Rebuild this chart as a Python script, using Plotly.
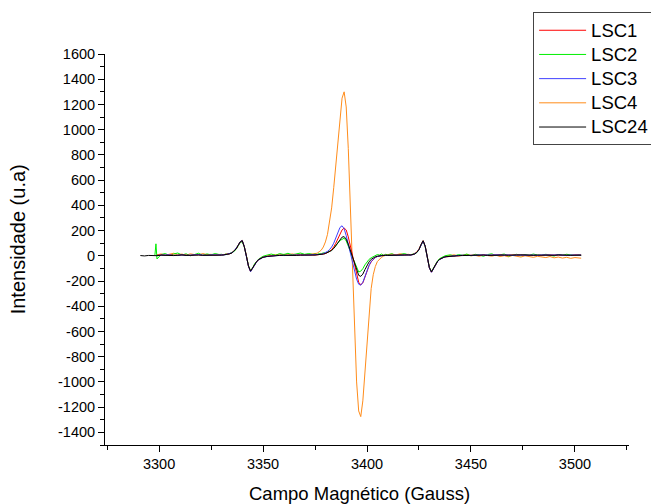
import plotly.graph_objects as go

# Magnetic field (Gauss) sample positions
campo = [3291, 3293, 3295, 3297, 3298, 3298.5, 3299, 3301, 3303, 3305, 3307, 3309, 3311, 3313, 3315, 3317, 3319, 3321, 3323, 3325, 3327, 3329,
         3330, 3331, 3332, 3333, 3334, 3335, 3336, 3337, 3338, 3339, 3340, 3341, 3342, 3343, 3344, 3345, 3346, 3347, 3348, 3349, 3350,
         3352, 3354, 3356, 3358, 3360, 3362, 3364, 3366, 3368, 3370, 3372, 3374,
         3375, 3376, 3377, 3378, 3379, 3380, 3381, 3382, 3383, 3384, 3385, 3386, 3387, 3388, 3389, 3390, 3391, 3392, 3393, 3394,
         3395, 3396, 3397, 3398, 3399, 3400, 3401, 3402, 3403, 3404, 3405, 3406, 3407, 3408, 3409, 3410,
         3412, 3414, 3416, 3418, 3420,
         3421, 3422, 3423, 3424, 3425, 3426, 3427, 3428, 3429, 3430, 3431, 3432, 3433, 3434, 3435, 3436, 3437, 3438,
         3440, 3442, 3444, 3446, 3448, 3450, 3452, 3454, 3456, 3458, 3460, 3462, 3464, 3466, 3468, 3470, 3472, 3474, 3476, 3478,
         3480, 3482, 3484, 3486, 3488, 3490, 3492, 3494, 3496, 3498, 3500, 3502, 3503]

N = None
lsc1 = [N, N, N, N, N, N, 4, 7, 3, 9, 5, 2, 8, 6, 3, 7, 10, 4, 6, 8, 5, 7,
        6, 8, 10, 12, 16, 22, 34, 53, 81, 109, 119, 71, -2, -83, -124, -99, -67, -45, -30, -19, -11,
        -4, 0, 3, 5, 2, 6, 4, 7, 3, 5, 8, 6,
        6, 7, 8, 10, 14, 18, 25, 35, 50, 70, 100, 135, 175, 205, 220, 205, 150, 80, 10, -70,
        -150, -210, -230, -215, -170, -120, -78, -48, -28, -14, -6, 0, 3, 4, 5, 3,
        6, 4, 7, 5, 3,
        7, 10, 16, 29, 51, 89, 119, 75, -9, -95, -129, -101, -65, -43, -28, -18, -12, -8,
        -4, -1, 2, 4, 3, 6, 5, 3, 7, 4, 6, 5, 8, 4, 6, 3, 7, 5, 4, 6,
        8, 5, 3, 7, 6, 4, 8, 5, 6, 3, 7, 5, 6]

lsc2 = [N, N, N, N, 5, 95, -25, 10, 18, 2, 14, 22, 6, 16, 0, 12, 20, 4, 15, 8, 18, 10,
        12, 6, 14, 10, 18, 22, 34, 50, 78, 104, 112, 68, 0, -78, -118, -96, -62, -40, -24, -14, -4,
        6, 14, 4, 18, 10, 20, 8, 16, 22, 12, 18, 10,
        14, 10, 18, 16, 24, 22, 30, 36, 45, 60, 82, 100, 122, 130, 140, 118, 82, 35, -10, -55,
        -100, -128, -122, -102, -72, -50, -28, -16, -6, 2, 10, 6, 14, 4, 12, 8,
        16, 2, 12, 18, 6,
        10, 8, 16, 26, 48, 86, 115, 72, -12, -92, -125, -96, -60, -38, -22, -10, -4, 2,
        8, -2, 10, 4, 14, 0, 12, 6, -4, 10, 16, 2, 8, 14, -2, 6, 12, 0, 10, 4,
        14, 6, 2, 12, 8, -2, 10, 4, 12, 6, 2, 8, 4]

lsc3 = [N, N, N, N, N, N, 3, 6, 4, 8, 2, 5, 7, 3, 6, 4, 9, 5, 3, 7, 6, 4,
        5, 7, 9, 12, 17, 24, 36, 55, 83, 111, 121, 73, -4, -84, -126, -101, -68, -46, -31, -20, -12,
        -5, -1, 2, 4, 3, 5, 6, 4, 7, 5, 6, 7,
        7, 8, 10, 12, 18, 25, 35, 50, 70, 100, 140, 185, 225, 238, 215, 160, 90, 20, -50, -120,
        -185, -225, -233, -210, -165, -115, -75, -45, -25, -12, -5, 0, 2, 4, 3, 5,
        4, 6, 3, 7, 5,
        6, 9, 15, 27, 49, 87, 117, 73, -11, -97, -131, -102, -66, -44, -29, -19, -12, -7,
        -3, 0, 3, 5, 2, 6, 4, 7, 5, 3, 6, 8, 4, 5, 7, 3, 6, 4, 8, 5,
        6, 3, 7, 5, 4, 6, 8, 5, 3, 6, 7, 4, 6]

lsc4 = [N, N, N, N, N, N, 8, 15, 5, 12, 20, 8, 14, 4, 16, 10, 6, 18, 9, 12, 5, 11,
        8, 10, 12, 14, 18, 24, 36, 55, 84, 112, 122, 74, 0, -80, -120, -100, -66, -44, -30, -18, -10,
        -2, 4, 10, 6, 12, 8, 15, 9, 13, 7, 11, 14,
        15, 20, 32, 45, 70, 110, 170, 260, 380, 540, 720, 920, 1110, 1250, 1300, 1180, 850, 350, -150, -620,
        -1000, -1230, -1275, -1150, -920, -660, -430, -260, -150, -85, -45, -25, -12, -2, 5, 10,
        14, 8, 16, 10, 12,
        8, 12, 18, 30, 52, 90, 118, 74, -10, -96, -130, -102, -66, -42, -26, -15, -8, -2,
        2, 8, -2, 6, 10, 0, 4, -4, 7, 2, -3, 5, -6, 1, -8, 3, -5, -10, 0, -7,
        -12, -4, -9, -14, -6, -16, -10, -18, -12, -20, -14, -17, -19]

lsc24 = [2, -1, 3, 0, 4, 2, 1, 5, 3, 6, 2, 4, 7, 3, 5, 2, 6, 4, 3, 7, 5, 4,
         5, 7, 9, 12, 16, 23, 35, 54, 82, 110, 120, 72, -3, -82, -122, -98, -66, -44, -29, -19, -12,
         -5, -1, 2, 3, 4, 2, 5, 3, 6, 4, 5, 6,
         6, 7, 8, 10, 14, 18, 24, 30, 42, 58, 80, 105, 130, 148, 152, 132, 92, 40, -15, -70,
         -120, -155, -163, -145, -110, -75, -48, -28, -15, -8, -3, 0, 2, 3, 4, 3,
         5, 4, 6, 5, 7,
         6, 9, 15, 28, 50, 88, 120, 76, -8, -94, -128, -100, -64, -42, -27, -17, -11, -7,
         -3, -1, 1, 2, 4, 3, 5, 4, 6, 3, 5, 7, 4, 6, 5, 3, 6, 8, 5, 7,
         4, 6, 5, 8, 6, 4, 7, 5, 6, 4, 5, 6, 5]

series_names = ["LSC1", "LSC2", "LSC3", "LSC4", "LSC24"]
series_values = [lsc1, lsc2, lsc3, lsc4, lsc24]
series_colors = ["#FF0000", "#00EE00", "#4040FF", "#FF8C1A", "#000000"]
draw_order = [3, 1, 0, 2, 4]

x_tick_vals = [3300, 3350, 3400, 3450, 3500]
x_tick_labels = ["3300", "3350", "3400", "3450", "3500"]
y_tick_vals = [1600, 1400, 1200, 1000, 800, 600, 400, 200, 0, -200, -400, -600, -800, -1000, -1200, -1400]
y_tick_labels = ["1600", "1400", "1200", "1000", "800", "600", "400", "200", "0", "-200", "-400", "-600",
                 "-800", "-1000", "-1200", "-1400"]

fig = go.Figure()
for i in draw_order:
    fig.add_trace(go.Scatter(
        x=campo, y=series_values[i],
        name="<span style='font-size:18.5px'>" + series_names[i] + "</span>",
        mode="lines", line=dict(color=series_colors[i], width=1), legendrank=i + 1,
        connectgaps=False))

font_family = "Arial, Liberation Sans, sans-serif"
fig.update_layout(
    width=651, height=504,
    margin=dict(l=105, r=22, t=54, b=59, autoexpand=False),
    paper_bgcolor="white", plot_bgcolor="white",
    font=dict(family=font_family, color="#000000", size=14),
    showlegend=True,
    legend=dict(x=0.817, y=1.107, xanchor="left", yanchor="top",
                bgcolor="white", bordercolor="#444444", borderwidth=1,
                font=dict(size=16.3, family=font_family), itemwidth=47,
                tracegroupgap=0),
    xaxis=dict(range=[3274, 3526], showgrid=False, zeroline=False,
               showline=True, linecolor="#000000", linewidth=1,
               ticks="outside", ticklen=6, tickcolor="#000000",
               tickmode="array", tickvals=x_tick_vals, ticktext=x_tick_labels,
               minor=dict(dtick=25, tick0=3300, ticks="outside", ticklen=4, tickcolor="#000000"),
               tickfont=dict(size=14.5)),
    yaxis=dict(range=[-1500, 1600], showgrid=False, zeroline=False,
               showline=True, linecolor="#000000", linewidth=1,
               ticks="outside", ticklen=6, tickcolor="#000000",
               tickmode="array", tickvals=y_tick_vals, ticktext=y_tick_labels,
               minor=dict(dtick=100, tick0=0, ticks="outside", ticklen=4, tickcolor="#000000"),
               tickfont=dict(size=14.5)),
    annotations=[
        dict(text="Campo Magnético (Gauss)", xref="paper", yref="paper",
             x=0.485, y=-0.124, xanchor="center", yanchor="middle",
             showarrow=False, font=dict(size=18.5, family=font_family, color="#000000")),
        dict(text="Intensidade (u.a)", xref="paper", yref="paper",
             x=-0.166, y=0.526, xanchor="center", yanchor="middle", textangle=-90,
             showarrow=False, font=dict(size=20, family=font_family, color="#000000")),
    ],
)

fig.write_html("out.html", config={"displayModeBar": False},
               post_script="document.body.style.margin='0px';")
